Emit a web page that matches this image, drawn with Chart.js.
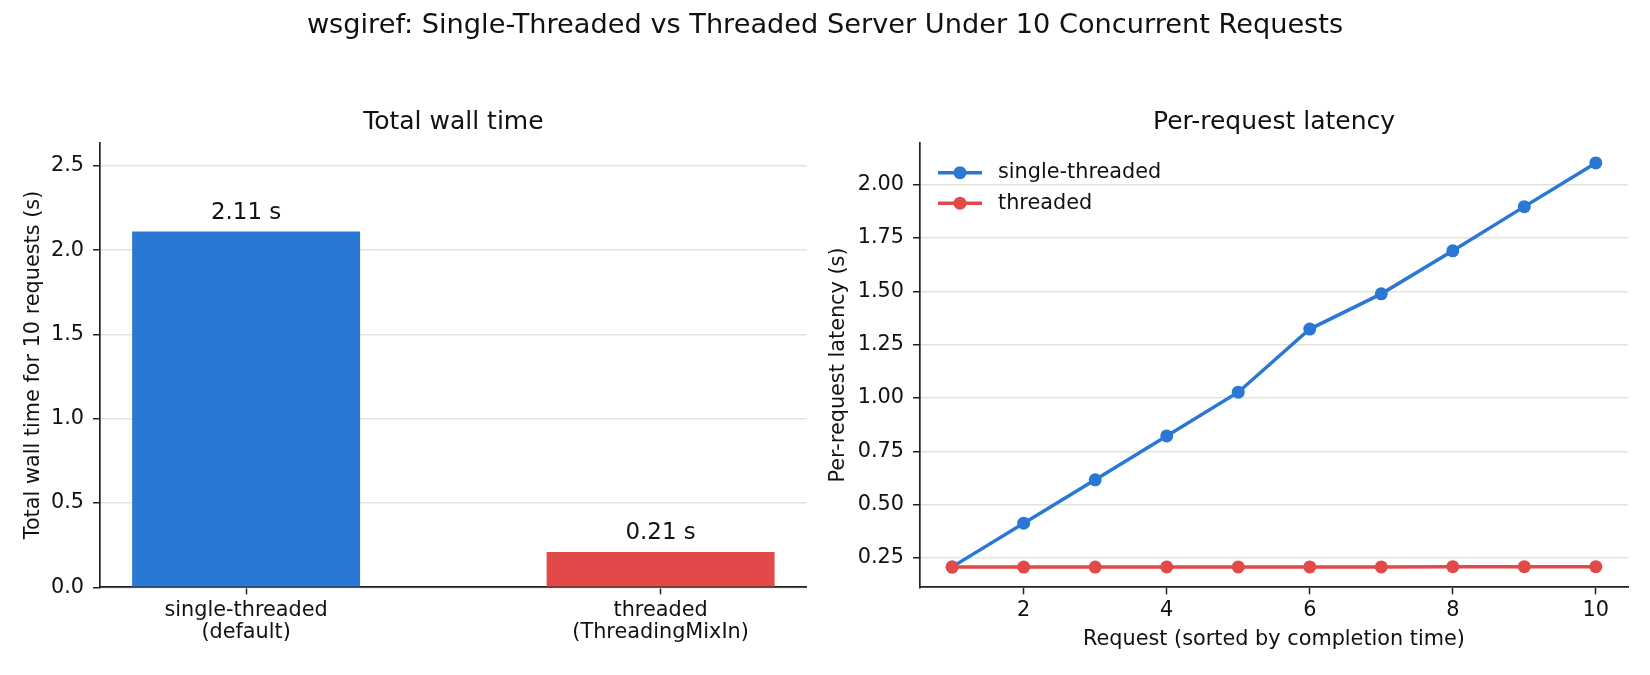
<!DOCTYPE html>
<html>
<head>
<meta charset="utf-8">
<script src="https://cdn.jsdelivr.net/npm/chart.js@4.4.0/dist/chart.umd.min.js"></script>
<style>
  body { margin: 0; background: #fff; }
  #wrap { position: relative; width: 1650px; height: 675px; }
  #suptitle {
    position: absolute; left: 0; top: 0; width: 1650px; height: 48px;
    line-height: 48px; text-align: center;
    font-family: 'DejaVu Sans'; font-size: 27.2px; color: #111;
  }
  .panel { position: absolute; top: 0; width: 825px; height: 675px; }
</style>
</head>
<body>
<div id="wrap">
  <div class="panel" style="left:0"><canvas id="wallChart" width="825" height="675"></canvas></div>
  <div class="panel" style="left:825px"><canvas id="latencyChart" width="825" height="675"></canvas></div>
  <div id="suptitle">wsgiref: Single-Threaded vs Threaded Server Under 10 Concurrent Requests</div>
</div>
<script>
  // data
  const servers = [['single-threaded', '(default)'], ['threaded', '(ThreadingMixIn)']];
  const totalWall = [2.11, 0.21];
  const serverColors = ['#2b78d4', '#e24a4a'];
  const wallTicks = [0, 0.5, 1.0, 1.5, 2.0, 2.5];

  const requests = [1, 2, 3, 4, 5, 6, 7, 8, 9, 10];
  const singleLatency = [0.208, 0.413, 0.616, 0.822, 1.027, 1.323, 1.488, 1.690, 1.897, 2.102];
  const threadedLatency = [0.207, 0.207, 0.207, 0.208, 0.208, 0.208, 0.208, 0.209, 0.209, 0.209];
  const latencyTicks = [0.25, 0.50, 0.75, 1.00, 1.25, 1.50, 1.75, 2.00];
  const requestTicks = [2, 4, 6, 8, 10];

  const INK = '#111';
  const AXIS = '#222';
  const GRID = '#e3e3de';
  Chart.defaults.font.family = 'DejaVu Sans';
  Chart.defaults.color = INK;
  Chart.defaults.animation = false;

  const tickFont = { size: 20.8, lineHeight: 1.06 };
  const labelFont = { size: 20.8, lineHeight: 1.2 };

  function fixTicks(values) {
    return function (scale) { scale.ticks = values.map(v => ({ value: v })); };
  }

  // axes title centred over the plot area, like matplotlib's ax.set_title
  const axesTitle = {
    id: 'axesTitle',
    afterDraw(chart, args, opts) {
      const { ctx, chartArea } = chart;
      ctx.save();
      ctx.font = '25px "DejaVu Sans"';
      ctx.textAlign = 'center';
      ctx.textBaseline = 'middle';
      ctx.fillStyle = INK;
      ctx.fillText(opts.text, (chartArea.left + chartArea.right) / 2, chartArea.top - 20.7);
      ctx.restore();
    }
  };

  // value labels above the bars
  const barValueLabels = {
    id: 'barValueLabels',
    afterDatasetsDraw(chart) {
      const ctx = chart.ctx;
      const meta = chart.getDatasetMeta(0);
      ctx.save();
      ctx.font = '22.9px "DejaVu Sans"';
      ctx.textAlign = 'center';
      ctx.textBaseline = 'alphabetic';
      ctx.fillStyle = INK;
      meta.data.forEach((bar, i) => {
        ctx.fillText(totalWall[i].toFixed(2) + ' s', bar.x, bar.y - 13);
      });
      ctx.restore();
    }
  };

  // matplotlib-style legend: line with a marker, no frame
  const lineLegend = {
    id: 'lineLegend',
    afterDraw(chart) {
      const { ctx, chartArea } = chart;
      chart.data.datasets.forEach((ds, i) => {
        const x = chartArea.left + 18;
        const y = chartArea.top + 30 + i * 30.5;
        ctx.save();
        ctx.strokeStyle = ds.borderColor;
        ctx.lineWidth = ds.borderWidth;
        ctx.beginPath();
        ctx.moveTo(x, y);
        ctx.lineTo(x + 44, y);
        ctx.stroke();
        ctx.fillStyle = ds.borderColor;
        ctx.beginPath();
        ctx.arc(x + 22, y, ds.pointRadius, 0, Math.PI * 2);
        ctx.fill();
        ctx.font = '20.8px "DejaVu Sans"';
        ctx.textBaseline = 'middle';
        ctx.fillStyle = INK;
        ctx.fillText(ds.label, x + 60, y);
        ctx.restore();
      });
    }
  };

  // Total wall time bar chart
  const wallCtx = document.getElementById('wallChart').getContext('2d');
  const wallChart = new Chart(wallCtx, {
    type: 'bar',
    data: {
      datasets: [{
        data: servers.map((s, i) => ({ x: i, y: totalWall[i] })),
        backgroundColor: serverColors,
        borderWidth: 0,
        barPercentage: 0.55,
        categoryPercentage: 1
      }]
    },
    options: {
      responsive: false,
      layout: { padding: { left: 0, right: 18.3, top: 142.7, bottom: 0 } },
      plugins: {
        legend: { display: false },
        tooltip: { enabled: false },
        title: { display: false },
        axesTitle: { text: 'Total wall time' }
      },
      scales: {
        x: {
          type: 'linear',
          min: -0.3525, max: 1.3525,
          offset: false,
          afterBuildTicks: fixTicks(servers.map((s, i) => i)),
          afterFit: s => { s.height = 87.7; },
          ticks: { font: tickFont, padding: 5, color: INK, maxRotation: 0, callback: v => servers[v] },
          grid: { offset: false, drawOnChartArea: false, tickColor: AXIS, tickLength: 7, tickWidth: 1.5 },
          border: { color: AXIS, width: 1.7 }
        },
        y: {
          min: 0, max: Math.max(...totalWall) * 1.25,
          afterBuildTicks: fixTicks(wallTicks),
          afterFit: s => { s.width = 100; },
          ticks: { font: tickFont, padding: 9, color: INK, callback: v => v.toFixed(1) },
          grid: { color: GRID, lineWidth: 1.5, tickColor: AXIS, tickLength: 7, tickWidth: 1.5 },
          border: { color: AXIS, width: 1.7 },
          title: {
            display: true, text: 'Total wall time for 10 requests (s)', color: INK,
            font: labelFont, padding: { top: 21.5, bottom: 0 }
          }
        }
      }
    },
    plugins: [barValueLabels, axesTitle]
  });

  // Per-request latency line chart
  const allLatency = singleLatency.concat(threadedLatency);
  const latLo = Math.min(...allLatency);
  const latHi = Math.max(...allLatency);
  const latPad = (latHi - latLo) * 0.05;
  const reqPad = (requests[requests.length - 1] - requests[0]) * 0.05;

  const latencyCtx = document.getElementById('latencyChart').getContext('2d');
  const latencyChart = new Chart(latencyCtx, {
    type: 'line',
    data: {
      datasets: [{
        label: 'single-threaded',
        data: requests.map((r, i) => ({ x: r, y: singleLatency[i] })),
        borderColor: serverColors[0],
        backgroundColor: serverColors[0],
        borderWidth: 3.5,
        pointRadius: 6.5,
        pointHoverRadius: 6.5,
        pointBorderWidth: 0,
        order: 1
      }, {
        label: 'threaded',
        data: requests.map((r, i) => ({ x: r, y: threadedLatency[i] })),
        borderColor: serverColors[1],
        backgroundColor: serverColors[1],
        borderWidth: 3.5,
        pointRadius: 6.5,
        pointHoverRadius: 6.5,
        pointBorderWidth: 0,
        order: 0
      }]
    },
    options: {
      responsive: false,
      layout: { padding: { left: 0, right: 22, top: 142.7, bottom: 0 } },
      plugins: {
        legend: { display: false },
        tooltip: { enabled: false },
        title: { display: false },
        axesTitle: { text: 'Per-request latency' }
      },
      scales: {
        x: {
          type: 'linear',
          min: requests[0] - reqPad, max: requests[requests.length - 1] + reqPad,
          afterBuildTicks: fixTicks(requestTicks),
          afterFit: s => { s.height = 87.7; },
          ticks: { font: tickFont, padding: 5, color: INK, maxRotation: 0, callback: v => String(v) },
          grid: { drawOnChartArea: false, tickColor: AXIS, tickLength: 7, tickWidth: 1.5 },
          border: { color: AXIS, width: 1.7 },
          title: {
            display: true, text: 'Request (sorted by completion time)', color: INK,
            font: labelFont, padding: { top: 0, bottom: 22.7 }
          }
        },
        y: {
          min: latLo - latPad, max: latHi + latPad,
          afterBuildTicks: fixTicks(latencyTicks),
          afterFit: s => { s.width = 95; },
          ticks: { font: tickFont, padding: 9, color: INK, callback: v => v.toFixed(2) },
          grid: { color: GRID, lineWidth: 1.5, tickColor: AXIS, tickLength: 7, tickWidth: 1.5 },
          border: { color: AXIS, width: 1.7 },
          title: {
            display: true, text: 'Per-request latency (s)', color: INK,
            font: labelFont, padding: { top: 1.3, bottom: 0 }
          }
        }
      }
    },
    plugins: [lineLegend, axesTitle]
  });
</script>
</body>
</html>
